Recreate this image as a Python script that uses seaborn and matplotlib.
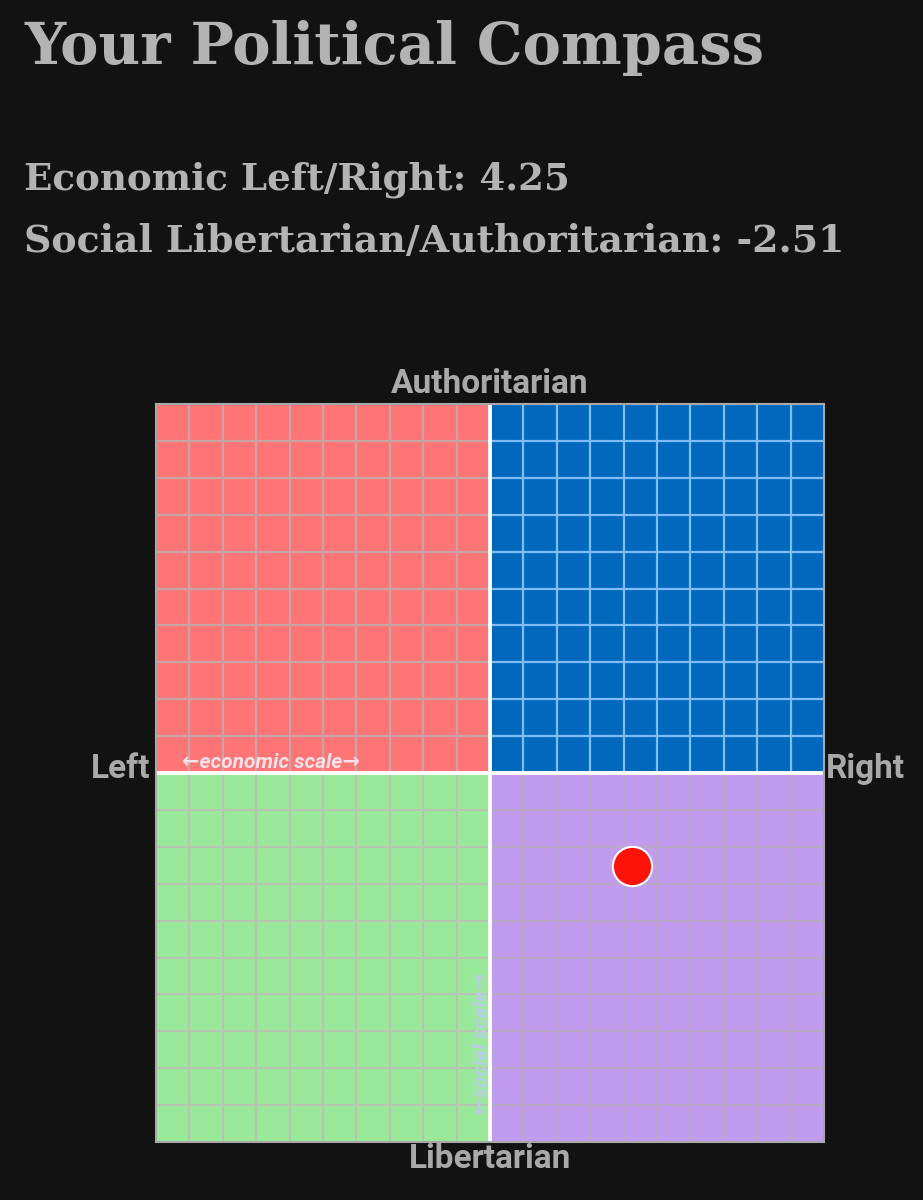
import matplotlib
matplotlib.use("Agg")
import matplotlib.pyplot as plt
import seaborn as sns
import pandas as pd
import numpy as np

# ---- data ----
economic = [4.25]
social = [-2.51]
quadrants = ["Authoritarian Left", "Authoritarian Right", "Libertarian Left", "Libertarian Right"]
quad_x = [(-10, 0), (0, 10), (-10, 0), (0, 10)]
quad_y = [(0, 10), (0, 10), (-10, 0), (-10, 0)]
quad_colors = ["#ff7575", "#0069be", "#9ae89a", "#c19cee"]
grid_colors = ["#c8a4a4", "#80bdf5", "#b9c4b0", "#b9a8c8"]
grid_ticks = list(range(-10, 11))

title = "Your Political Compass"
line1 = "Economic Left/Right: 4.25"
line2 = "Social Libertarian/Authoritarian: -2.51"

BG = "#121212"
TXT = "#b3b3b3"
LBL = "#a9a9a9"

sns.set_theme(style="white")
plt.rcParams["font.family"] = ["Roboto", "DejaVu Sans"]

W, H = 923, 1200
fig = plt.figure(figsize=(W / 100, H / 100), dpi=100, facecolor=BG)

def fx(px):
    return px / W

def fy(py):
    return 1 - py / H

ax = fig.add_axes([fx(156), fy(1142), (824 - 156) / W, (1142 - 404) / H])
ax.set_facecolor(BG)
ax.set_xlim(-10, 10)
ax.set_ylim(-10, 10)

for (x0, x1), (y0, y1), c, gc in zip(quad_x, quad_y, quad_colors, grid_colors):
    ax.fill_between([x0, x1], y0, y1, color=c, lw=0, zorder=1)
    xs = [t for t in grid_ticks if x0 < t < x1]
    ys = [t for t in grid_ticks if y0 < t < y1]
    ax.vlines(xs, y0, y1, colors=gc, lw=1.6, zorder=2)
    ax.hlines(ys, x0, x1, colors=gc, lw=1.6, zorder=2)

ax.axhline(0, color="white", lw=2.8, zorder=3)
ax.axvline(0, color="white", lw=2.8, zorder=3)

for s in ax.spines.values():
    s.set_visible(True)
    s.set_color("#a8a8a8")
    s.set_linewidth(1.5)
    s.set_zorder(4)
ax.set_xticks([])
ax.set_yticks([])

df = pd.DataFrame({"economic": economic, "social": social})
sns.scatterplot(data=df, x="economic", y="social", ax=ax, s=800,
                color="#ff1208", edgecolor="white", linewidth=1.5, zorder=5, legend=False)
ax.set_xlabel("")
ax.set_ylabel("")

ax.text(-9.22, 0.14, "←economic scale→", color="#f8e4ea", fontsize=15,
        fontstyle="italic", fontweight="bold", ha="left", va="baseline", zorder=6)
ax.text(-0.25, -7.33, "←social scale→", color="#b8cde6", fontsize=15,
        fontstyle="italic", fontweight="bold", ha="center", va="center",
        rotation=90, zorder=6)

# ---- titles ----
fig.text(fx(24), fy(64), title, color=TXT, fontsize=41.4, fontweight="bold",
         family=["DejaVu Serif"], ha="left", va="baseline")
fig.text(fx(24), fy(190), line1, color=TXT, fontsize=26.8, fontweight="bold",
         family=["DejaVu Serif"], ha="left", va="baseline")
fig.text(fx(24), fy(252), line2, color=TXT, fontsize=27.3, fontweight="bold",
         family=["DejaVu Serif"], ha="left", va="baseline")

# ---- axis labels ----
fig.text(fx(490), fy(393), "Authoritarian", color=LBL, fontsize=24, fontweight="bold",
         ha="center", va="baseline")
fig.text(fx(490), fy(1168), "Libertarian", color=LBL, fontsize=24, fontweight="bold",
         ha="center", va="baseline")
fig.text(fx(150), fy(778), "Left", color=LBL, fontsize=24, fontweight="bold",
         ha="right", va="baseline")
fig.text(fx(826), fy(778), "Right", color=LBL, fontsize=24, fontweight="bold",
         ha="left", va="baseline")

fig.savefig("out.png", dpi=100, facecolor=BG)
